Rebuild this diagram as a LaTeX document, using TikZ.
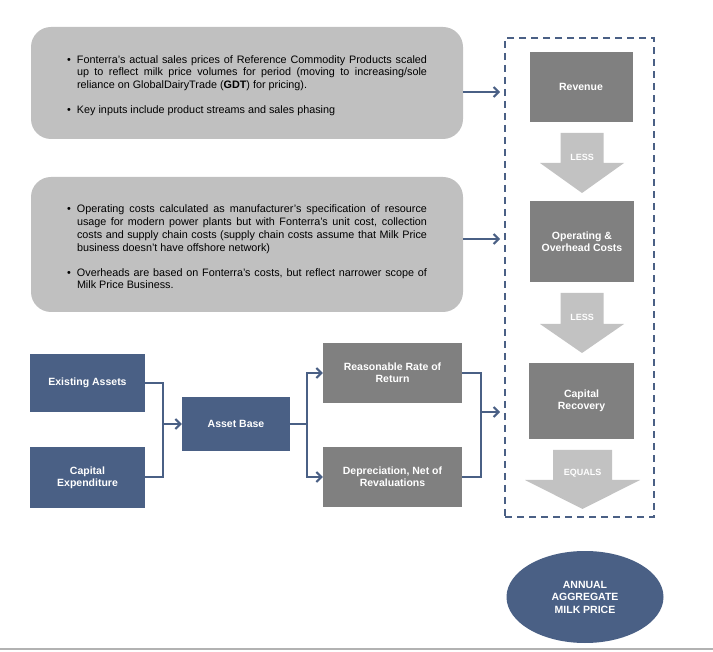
\documentclass[tikz,border=0pt]{standalone}
\usepackage{fontspec}
\setmainfont{Liberation Sans}
\usepackage{xcolor}
\usepackage{tikz}
\usetikzlibrary{
  arrows.meta,
  calc,
  shapes.geometric
}
\definecolor{slate}{HTML}{4A6085}
\definecolor{boxgray}{HTML}{808080}
\definecolor{panelgray}{HTML}{C0C0C0}
\definecolor{arrowgray}{HTML}{C2C2C2}
\hyphenpenalty=10000
\exhyphenpenalty=10000
\newcommand{\bitem}[1]{\par\noindent\hangindent=10pt\hangafter=1\makebox[10pt][l]{\textbullet}#1\par}

\begin{document}
\begin{tikzpicture}[x=1pt, y=-1pt, >=Stealth,
    panel/.style={fill=panelgray, rounded corners=20pt, inner sep=0pt,
      text width=360pt, align=justify, font=\fontsize{10.8}{12.8}\selectfont},
    bluebox/.style={fill=slate, text=white, inner sep=0pt, align=center,
      font=\fontsize{10.5}{12}\selectfont\bfseries},
    graybox/.style={fill=boxgray, text=white, inner sep=0pt, align=center,
      font=\fontsize{10.5}{12}\selectfont\bfseries},
    tag/.style={text=white, inner sep=0pt, font=\fontsize{9}{10}\selectfont\bfseries},
    link/.style={draw=slate, line width=2pt},
    conn/.style={link, -{Straight Barb[length=5pt, width=10pt, line width=2pt]}}]

    % 1. page area and bottom rule
    \useasboundingbox (0,0) rectangle (713,652);
    \draw[gray!60, line width=1.5pt] (0,649) -- (713,649);

    % 2. text panels
    \node[panel, minimum width=432pt, minimum height=112pt] (inA) at (247,83) {%
      \bitem{Fonterra's actual sales prices of Reference Commodity Products scaled\linebreak up to reflect milk price volumes for period (moving to increasing/sole\linebreak reliance on GlobalDairyTrade (\textbf{GDT}) for pricing).}
      \vspace{12pt}
      \bitem{Key inputs include product streams and sales phasing}};
    \node[panel, minimum width=432pt, minimum height=135pt] (inB) at (247,244.5) {%
      \bitem{Operating costs calculated as manufacturer's specification of resource usage for modern power plants but with Fonterra's unit cost, collection costs and supply chain costs (supply chain costs assume that Milk Price business doesn't have offshore network)}
      \vspace{12pt}
      \bitem{Overheads are based on Fonterra's costs, but reflect narrower scope of Milk Price Business.}};

    % 3. dashed frame and the calculation column
    \node[draw=slate, dashed, dash pattern=on 7pt off 5pt, line width=2pt,
      minimum width=149pt, minimum height=479pt, inner sep=0pt] (frame) at (579.5,277.5) {};
    \node[graybox, minimum width=103pt, minimum height=70pt] (rev) at (581,87) {Revenue};
    \node[graybox, minimum width=104pt, minimum height=81pt] (opc) at (582,241.5) {Operating \&\\Overhead Costs};
    \node[graybox, minimum width=105pt, minimum height=76pt] (cr) at (581.5,401) {Capital\\Recovery};

    % 4. block arrows between the steps
    \fill[arrowgray] (560.5,133) -- (603.5,133) -- (603.5,163) -- (624,163) -- (582,193)
        -- (540,163) -- (560.5,163) -- cycle;
    \fill[arrowgray] (560.5,293) -- (603.5,293) -- (603.5,324) -- (624,324) -- (582,353)
        -- (540,324) -- (560.5,324) -- cycle;
    \fill[arrowgray] (553,450) -- (612,450) -- (612,480) -- (640,480) -- (582.5,509)
        -- (525,480) -- (553,480) -- cycle;
    \node[tag] (less1) at (582,157) {LESS};
    \node[tag] (less2) at (582,317) {LESS};
    \node[tag] (equals) at (582.5,473) {EQUALS};

    % 5. result
    \node[ellipse, fill=slate, text=white, minimum width=157pt, minimum height=92pt,
      inner sep=0pt, align=center, font=\fontsize{10.5}{12.5}\selectfont\bfseries]
      (amp) at (585,597) {ANNUAL\\AGGREGATE\\MILK PRICE};

    % 6. asset blocks
    \node[bluebox, minimum width=115pt, minimum height=58pt] (ea) at (87.5,383) {Existing Assets};
    \node[bluebox, minimum width=115pt, minimum height=61pt] (ce) at (87.5,477.5) {Capital\\Expenditure};
    \node[bluebox, minimum width=108pt, minimum height=54pt] (ab) at (236,424) {Asset Base};
    \node[graybox, minimum width=139pt, minimum height=60pt] (rr) at (392.5,373) {Reasonable Rate of\\Return};
    \node[graybox, minimum width=139pt, minimum height=60pt] (dep) at (392.5,477) {Depreciation, Net of\\Revaluations};

    % 7. connectors
    \coordinate (j1) at (163,424);
    \coordinate (j2) at (307,424);
    \coordinate (j3) at (481,412);
    \draw[link] (ea.east) -| (j1) |- (ce.east);
    \draw[conn] (j1) -- (ab.west);
    \draw[link] (ab.east) -- (j2);
    \draw[conn] (j2) |- (rr.west);
    \draw[conn] (j2) |- (dep.west);
    \draw[link] (rr.east) -| (j3) |- (dep.east);
    \draw[conn, shorten >=4pt] (j3) -- (j3 -| frame.west);
    \draw[conn, shorten >=4pt] ([yshift=-9pt]inA.east) -- ([yshift=-9pt]inA.east -| frame.west);
    \draw[conn, shorten >=4pt] ([yshift=5.5pt]inB.east) -- ([yshift=5.5pt]inB.east -| frame.west);

\end{tikzpicture}
\end{document}
